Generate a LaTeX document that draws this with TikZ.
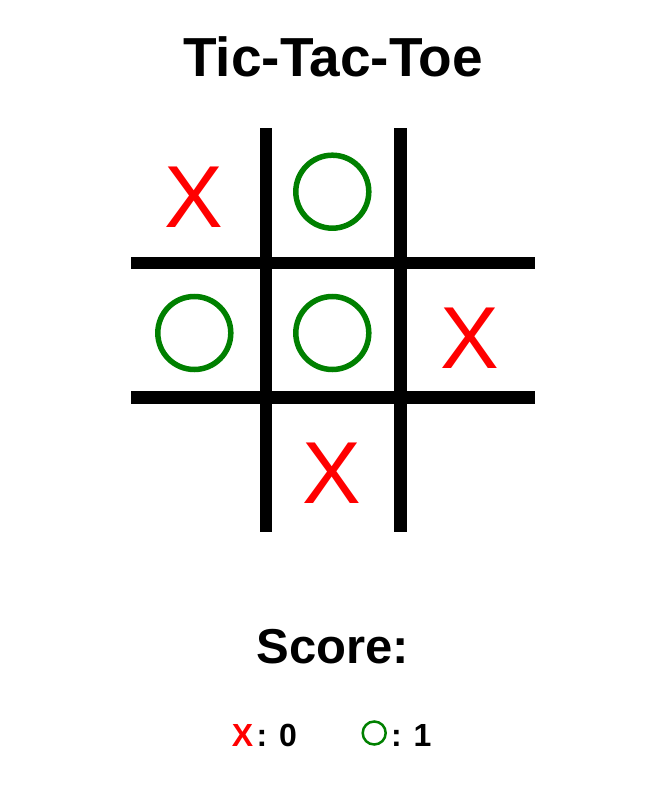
\documentclass[tikz,border=0pt]{standalone}
\usepackage{fontspec}
\setmainfont{Liberation Sans}
\usetikzlibrary{positioning}
\definecolor{markred}{HTML}{FF0000}
\definecolor{markgreen}{HTML}{008000}

\begin{document}
\begin{tikzpicture}[
            x=1pt, y=-1pt,
            node distance=4pt,
            gridline/.style={line width=12.5pt, draw=black},
            cross/.style={text=markred, font=\fontsize{88}{88}\selectfont, inner sep=0pt, anchor=base},
            nought/.style={circle, draw=markgreen, line width=5.5pt, minimum size=73pt, inner sep=0pt},
            heading/.style={font=\bfseries\fontsize{55}{60}\selectfont, inner sep=0pt, anchor=base},
            scorehead/.style={font=\bfseries\fontsize{49}{54}\selectfont, inner sep=0pt, anchor=base},
            scoretext/.style={font=\bfseries\fontsize{32}{36}\selectfont, inner sep=0pt},
            smallnought/.style={circle, draw=markgreen, line width=2.5pt, minimum size=23pt, inner sep=0pt},
        ]
            \useasboundingbox (0,0) rectangle (650,800);
            \def\gleft{131}
            \def\gright{535}
            \def\gtop{128}
            \def\gbottom{532}

            % Title
            \node[heading] (title) at (333,77) {Tic-Tac-Toe};

            % Draw the board lines
            \foreach \name / \x in {1/266, 2/400.5}
                \draw[gridline] (\x,\gtop) -- (\x,\gbottom);
            \foreach \name / \y in {1/263, 2/397.5}
                \draw[gridline] (\gleft,\y) -- (\gright,\y);

            % Draw the marks
            \node[cross] (X-11) at (194,227) {X};
            \node[nought] (O-12) at (332.3,191.7) {};
            \node[nought] (O-21) at (194.3,333) {};
            \node[nought] (O-22) at (332.3,333) {};
            \node[cross] (X-23) at (470,368) {X};
            \node[cross] (X-32) at (332,503) {X};

            % Score
            \node[scorehead] (score) at (333,663) {Score:};
            \node[scoretext, anchor=base, text=markred] (scoreX) at (242.5,746) {X};
            \node[scoretext, base right=3pt of scoreX] (scoreX-val) {: 0};
            \node[smallnought] (scoreO) at (374.2,733) {};
            \node[scoretext, anchor=base west] (scoreO-val) at ([xshift=4pt]scoreO.east |- scoreX.base) {: 1};
        \end{tikzpicture}
\end{document}
